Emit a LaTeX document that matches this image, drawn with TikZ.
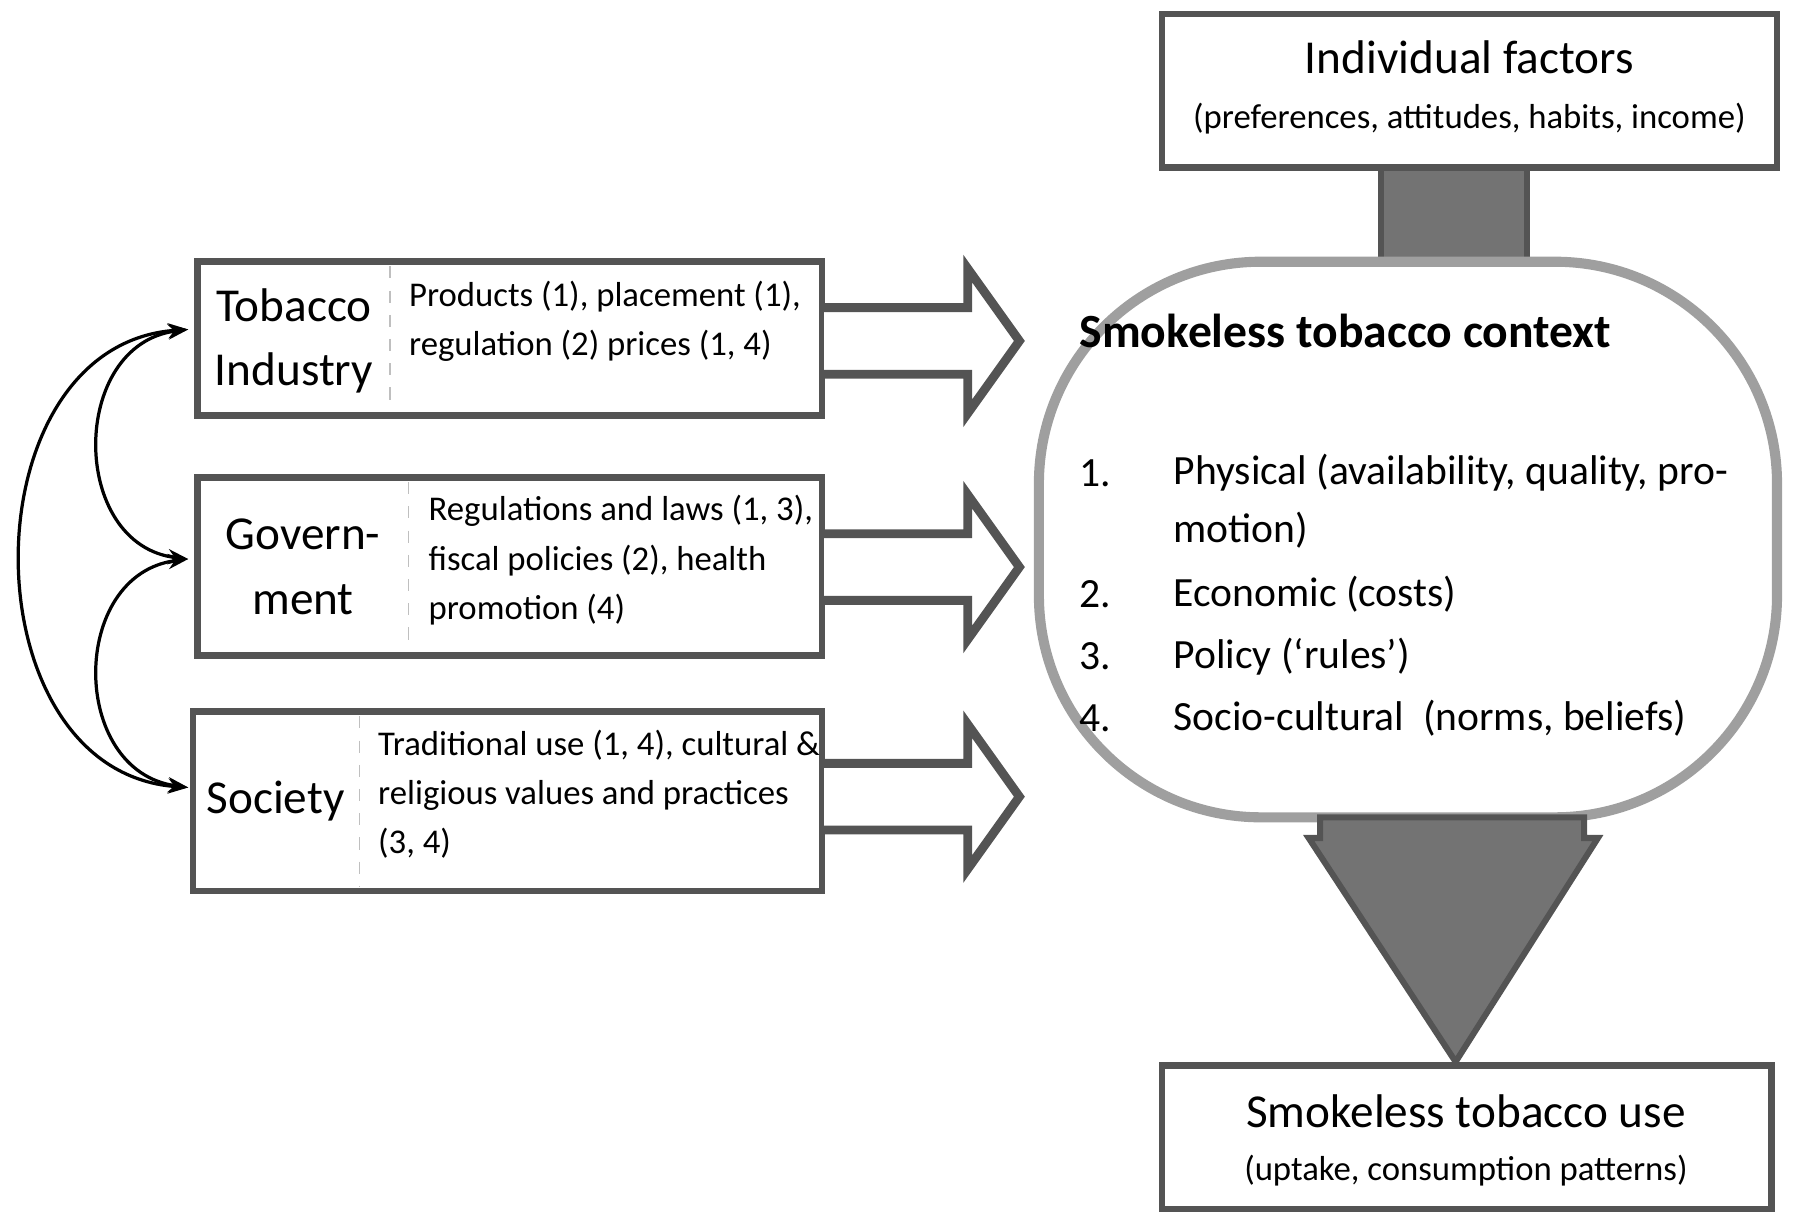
\documentclass[tikz,border=0pt]{standalone}
\usepackage{fontspec}
\setmainfont{Carlito}
\usetikzlibrary{arrows.meta}
\definecolor{bord}{gray}{0.33}
\definecolor{fillg}{gray}{0.45}
\tikzset{
 boxx/.style={draw=bord,line width=1.6pt},
 hollow/.style={draw=bord,line width=2.2pt,fill=white,line join=miter},
 txt/.style={font=\fontsize{8.6}{12.2}\selectfont,align=left,anchor=west},
 bigt/.style={font=\fontsize{11.7}{16}\selectfont,align=center},
 lst/.style={font=\fontsize{10.3}{12}\selectfont,anchor=west},
 curv/.style={{Stealth[length=5pt]}-{Stealth[length=5pt]},line width=0.8pt}
}
\begin{document}
\begin{tikzpicture}[x=0.01cm,y=-0.01cm]
\useasboundingbox (0,0) rectangle (1568,1071);
% individual factors
\draw[boxx] (1012,12) rectangle (1548,146);
\node[bigt] (ind) at (1280,50) {Individual factors};
\node[font=\fontsize{8.6}{10}\selectfont] (indsub) at (1280,103) {(preferences, attitudes, habits, income)};
\draw[draw=bord,fill=fillg,line width=1.5pt] (1203,146) rectangle (1330,228);
% context box
\draw[draw=gray!75,line width=2.5pt,rounded corners=55pt] (905,228) rectangle (1548,712);
\node[font=\fontsize{11.8}{14}\selectfont\bfseries,anchor=west] (ctx) at (928,288) {Smokeless tobacco context};
\foreach \y/\n/\t in {412/1./{Physical (availability, quality, pro-},518/2./{Economic (costs)},572/3./{Policy (‘rules’)},626/4./{Socio-cultural\ \ (norms, beliefs)}}{
 \node[lst] at (928,\y) {\n};
 \node[lst] at (1010,\y) {\t};
}
\node[lst] at (1010,462) {motion)};
% big down arrow
\draw[draw=bord,fill=fillg,line width=1.5pt,line join=miter] (1150,712) -- (1380,712) -- (1380,730) -- (1392,730) -- (1268,925) -- (1140,730) -- (1150,730) -- cycle;
% use box
\draw[boxx] (1012,928) rectangle (1543,1053);
\node[bigt] (use) at (1277,968) {Smokeless tobacco use};
\node[font=\fontsize{8.6}{10}\selectfont] at (1277,1020) {(uptake, consumption patterns)};
% left boxes
\draw[boxx] (172,228) rectangle (716,362);
\draw[gray!50,dashed] (340,232) -- (340,358);
\node[bigt] (tob) at (256,297) {Tobacco\\Industry};
\node[txt] at (344,280) {Products (1), placement (1),\\regulation (2) prices (1, 4)};
\draw[boxx] (172,416) rectangle (716,571);
\draw[gray!50,dashed] (356,420) -- (356,567);
\node[bigt] (gov) at (264,494) {Govern-\\ment};
\node[txt] at (361,488) {Regulations and laws (1, 3),\\fiscal policies (2), health\\promotion (4)};
\draw[boxx] (168,620) rectangle (716,776);
\draw[gray!50,dashed] (313,624) -- (313,772);
\node[bigt] (soc) at (240,698) {Society};
\node[txt] at (317,692) {Traditional use (1, 4), cultural \&\\religious values and practices\\(3, 4)};
% hollow arrows
\foreach \c in {297,494,694}{
 \draw[hollow] (718,\c-29) -- (843,\c-29) -- (843,\c-63) -- (888,\c) -- (843,\c+63) -- (843,\c+29) -- (718,\c+29);
}
% curved arrows
\coordinate (a1) at (164,287);
\coordinate (a2) at (164,487);
\coordinate (a3) at (164,686);
\draw[curv] (a1) .. controls (60,300) and (60,475) .. (a2);
\draw[curv] (a2) .. controls (60,500) and (60,672) .. (a3);
\draw[curv] (a1) .. controls (-30,300) and (-30,672) .. (a3);
\end{tikzpicture}
\end{document}
